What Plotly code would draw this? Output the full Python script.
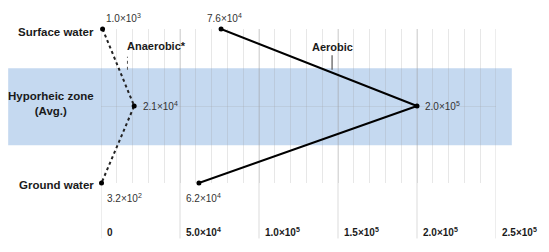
import plotly.graph_objects as go

# ---- data ----
categories = ["Surface water", "Hyporheic zone<br>(Avg.)", "Ground water"]
cat_pos = [2, 1, 0]
anaerobic = [1.0e3, 2.1e4, 3.2e2]
aerobic = [7.6e4, 2.0e5, 6.2e4]
anaerobic_labels = ["1.0×10<sup>3</sup>", "2.1×10<sup>4</sup>", "3.2×10<sup>2</sup>"]
aerobic_labels = ["7.6×10<sup>4</sup>", "2.0×10<sup>5</sup>", "6.2×10<sup>4</sup>"]
tick_vals = [0, 5e4, 1e5, 1.5e5, 2e5, 2.5e5]
tick_labels = ["0", "5.0×10<sup>4</sup>", "1.0×10<sup>5</sup>", "1.5×10<sup>5</sup>",
               "2.0×10<sup>5</sup>", "2.5×10<sup>5</sup>"]

FONT = "Liberation Sans Narrow, Arial Narrow, Liberation Sans, Arial, sans-serif"

fig = go.Figure()
fig.add_trace(go.Scatter(x=anaerobic, y=cat_pos, mode="lines+markers",
                         line=dict(color="#222222", width=2, dash="dot"),
                         marker=dict(color="black", size=5), cliponaxis=False,
                         showlegend=False))
fig.add_trace(go.Scatter(x=aerobic, y=cat_pos, mode="lines+markers",
                         line=dict(color="black", width=2),
                         marker=dict(color="black", size=5), cliponaxis=False,
                         showlegend=False))

shapes = []
# blue band for hyporheic zone
shapes.append(dict(type="rect", xref="paper", yref="y", x0=-0.235, x1=1.04, y0=0.49, y1=1.49,
                   fillcolor="rgb(197,217,240)", line=dict(width=0), layer="below"))
# major gridlines extending below the plot
for v in tick_vals:
    shapes.append(dict(type="line", xref="x", yref="paper", x0=v, x1=v, y0=-0.36, y1=1,
                       line=dict(color="rgba(150,150,150,0.35)", width=1), layer="between"))
# leader lines
shapes.append(dict(type="line", xref="paper", yref="paper", x0=0.067, x1=0.067, y0=0.735, y1=0.82,
                   line=dict(color="#555555", width=1, dash="dot")))
shapes.append(dict(type="line", xref="paper", yref="paper", x0=0.585, x1=0.585, y0=0.735, y1=0.83,
                   line=dict(color="#555555", width=1.2)))

ann = []
# value labels
val_font = dict(family=FONT, size=10, color="#333333")
offs_an = [(1, 11), (7, 0), (3, -15)]
offs_ae = [(-16, 11), (6, 0), (-15, -15)]
for xv, yv, t, (dx, dy) in zip(anaerobic, cat_pos, anaerobic_labels, offs_an):
    ann.append(dict(x=xv, y=yv, xref="x", yref="y", text=t, showarrow=False, xanchor="left",
                    yanchor="middle", xshift=dx, yshift=dy, font=val_font))
for xv, yv, t, (dx, dy) in zip(aerobic, cat_pos, aerobic_labels, offs_ae):
    ann.append(dict(x=xv, y=yv, xref="x", yref="y", text=t, showarrow=False, xanchor="left",
                    yanchor="middle", xshift=dx, yshift=dy, font=val_font))
# category labels
cat_font = dict(family=FONT, size=11.5, color="#1a1a1a")
cat_shift = {2: -3, 1: 3, 0: -2}
for c, p in zip(categories, cat_pos):
    ann.append(dict(x=0, y=p, xref="paper", yref="y", text="<b>%s</b>" % c, showarrow=False,
                    xanchor="right", yanchor="middle", xshift=-5, yshift=cat_shift[p],
                    align="center", font=cat_font))
# series labels
ann.append(dict(x=0.06, y=0.89, xref="paper", yref="paper", text="<b>Anaerobic*</b>",
                showarrow=False, xanchor="left", yanchor="middle",
                font=dict(family=FONT, size=11, color="#1a1a1a")))
ann.append(dict(x=0.528, y=0.885, xref="paper", yref="paper", text="<b>Aerobic</b>",
                showarrow=False, xanchor="left", yanchor="middle",
                font=dict(family=FONT, size=11, color="#1a1a1a")))

fig.update_layout(
    width=549, height=252,
    margin=dict(l=100.5, r=51, t=29, b=69),
    paper_bgcolor="white", plot_bgcolor="rgba(0,0,0,0)",
    shapes=shapes, annotations=ann,
    xaxis=dict(range=[0, 2.5e5], tickvals=tick_vals, ticktext=["<b>%s</b>" % t for t in tick_labels],
               showgrid=False, zeroline=False, showline=False, ticks="",
               ticklabelposition="outside right", ticklabelstandoff=42, ticklabelshift=6,
               tickfont=dict(family=FONT, size=10, color="#1a1a1a"),
               minor=dict(dtick=1e4, tick0=0, showgrid=True, gridcolor="rgba(160,160,160,0.25)", gridwidth=1)),
    yaxis=dict(range=[0, 2], tickvals=cat_pos, showticklabels=False, showgrid=True,
               gridcolor="rgba(160,160,160,0.22)", zeroline=False, showline=False, ticks=""),
)

fig.write_html("out.html")
